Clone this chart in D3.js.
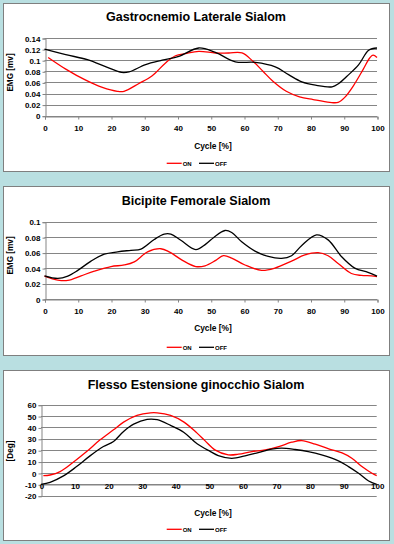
<!DOCTYPE html>
<html>
<head>
<meta charset="utf-8">
<script src="https://cdn.jsdelivr.net/npm/d3@7"></script>
<style>
  body { margin: 0; background: #b9dfe1; }
  svg { display: block; font-family: "Liberation Sans", Arial, sans-serif; }
</style>
</head>
<body>
<svg width="394" height="544"></svg>
<script>
// --- dati ---
const cycleTicks = [0, 10, 20, 30, 40, 50, 60, 70, 80, 90, 100];
const emgTicksGastro = [0, 0.02, 0.04, 0.06, 0.08, 0.1, 0.12, 0.14];
const emgTicksBicipite = [0, 0.02, 0.04, 0.06, 0.08, 0.1];
const degTicks = [-20, -10, 0, 10, 20, 30, 40, 50, 60];

// Gastrocnemio Laterale
const gastroOnCycle = [1.1, 6.4, 12.4, 17.4, 21.9, 23.9, 28.4, 32.4, 36.4, 39.4, 42.4, 46.4, 51.4, 55.4, 59.4, 62.7, 65.7, 68.7, 72.7, 76.7, 80.8, 85.8, 88.3, 90.3, 92.8, 95.8, 97.8, 98.8, 100];
const gastroOnEmg = [0.105, 0.084, 0.064, 0.051, 0.044, 0.044, 0.058, 0.072, 0.095, 0.108, 0.112, 0.116, 0.113, 0.113, 0.113, 0.098, 0.08, 0.062, 0.044, 0.034, 0.029, 0.024, 0.024, 0.033, 0.053, 0.083, 0.104, 0.109, 0.105];
const gastroOffCycle = [0, 6.4, 12.9, 18.9, 23.2, 25.4, 30.4, 35.4, 40.4, 46.4, 51.4, 57.4, 63.4, 69.4, 73.4, 77.4, 81.5, 86.5, 88.5, 91.5, 94.5, 97.5, 100];
const gastroOffEmg = [0.12, 0.11, 0.101, 0.087, 0.078, 0.079, 0.092, 0.1, 0.107, 0.122, 0.114, 0.097, 0.096, 0.088, 0.074, 0.061, 0.055, 0.052, 0.058, 0.074, 0.092, 0.118, 0.122];

// Bicipite Femorale
const bicOnCycle = [0, 4, 7, 11, 15, 20, 24, 27, 31, 35, 37.5, 41.5, 45.5, 48.3, 51.5, 53.8, 56.3, 60.3, 65.3, 69.3, 74.3, 78.3, 82.3, 85.3, 88.3, 92.3, 95.3, 98.3, 100];
const bicOnEmg = [0.0297, 0.0245, 0.024, 0.03, 0.036, 0.042, 0.044, 0.048, 0.061, 0.065, 0.061, 0.05, 0.042, 0.043, 0.05, 0.056, 0.053, 0.044, 0.037, 0.04, 0.049, 0.057, 0.06, 0.056, 0.046, 0.033, 0.0305, 0.03, 0.029];
const bicOffCycle = [0, 4, 7, 10, 14, 18, 22, 26, 29, 33, 36, 38, 41, 45.5, 48.5, 51, 54.3, 56.3, 59.3, 63.3, 67.3, 71.3, 74.3, 77.3, 81.8, 85.3, 89.3, 93.3, 97.3, 100];
const bicOffEmg = [0.03, 0.0267, 0.0297, 0.037, 0.049, 0.058, 0.061, 0.063, 0.0645, 0.077, 0.084, 0.084, 0.076, 0.064, 0.071, 0.08, 0.0886, 0.086, 0.074, 0.062, 0.055, 0.0525, 0.056, 0.069, 0.083, 0.0765, 0.055, 0.04, 0.0345, 0.0295];

// Flesso Estensione ginocchio
const kneeOnCycle = [0.7, 2.7, 5.7, 9.6, 13.6, 17.6, 21.6, 24.6, 28.6, 32.6, 34.6, 38.6, 42.6, 46.5, 48.9, 51.8, 55.8, 58.8, 62.8, 66.8, 70.8, 74.7, 77.7, 81.7, 85.7, 89.7, 92.6, 95.6, 98.6, 100];
const kneeOnDeg = [-2.4, -1.8, 1.2, 9.4, 18.8, 29.1, 37.9, 44.7, 50.6, 52.9, 52.9, 50.6, 44.7, 35, 28.2, 20.3, 15.9, 16.5, 18.8, 20.3, 23.2, 27, 28.5, 25.3, 21.2, 17.6, 12.9, 5.6, -0.3, -2.4];
const kneeOffCycle = [0, 2.7, 6.7, 10.6, 14.6, 18.6, 21.6, 24.6, 27.6, 31.6, 34.6, 38.6, 42.6, 46.5, 50.5, 52.8, 56.8, 60.8, 64.7, 68.7, 71.7, 75.7, 79.6, 83.6, 88.6, 91.6, 94.6, 97.6, 100];
const kneeOffDeg = [-10, -8.2, -2.6, 5.6, 15, 23.2, 27.6, 36.5, 42.9, 47.1, 46.8, 41.8, 35.6, 25.6, 18.8, 15.3, 12.9, 15, 17.9, 20.9, 21.8, 20.6, 18.8, 15.9, 10.6, 5.6, -0.3, -7.1, -10];

const seriesNames = ["ON", "OFF"];

const svg = d3.select("svg");
const gridColor = "#858585";
const colors = { ON: "#ff0000", OFF: "#000000" };

const panels = [
  {
    title: "Gastrocnemio Laterale Sialom", yTitle: "EMG [mv]",
    frame: [3, 3, 386, 168], titleY: 21.2, left: 44.5, right: 377, top: 38, bottom: 115.7,
    yDomain: [0, 0.14], yTicks: emgTicksGastro, xAxisAt: 0, cycleY: 148.5, legendY: 163.3, yTitleY: 72.5,
    series: [[gastroOnCycle, gastroOnEmg], [gastroOffCycle, gastroOffEmg]]
  },
  {
    title: "Bicipite Femorale Sialom", yTitle: "EMG [mv]",
    frame: [3, 186, 386, 169], titleY: 205, left: 44.5, right: 377, top: 221.7, bottom: 299,
    yDomain: [0, 0.1], yTicks: emgTicksBicipite, xAxisAt: 0, cycleY: 331, legendY: 347.3, yTitleY: 255.5,
    series: [[bicOnCycle, bicOnEmg], [bicOffCycle, bicOffEmg]]
  },
  {
    title: "Flesso Estensione ginocchio Sialom", yTitle: "[Deg]",
    frame: [3, 370, 386, 170], titleY: 389, left: 41, right: 376.7, top: 404.7, bottom: 495.7,
    yDomain: [-20, 60], yTicks: degTicks, xAxisAt: -10, cycleY: 516, legendY: 529.3, yTitleY: 451,
    series: [[kneeOnCycle, kneeOnDeg], [kneeOffCycle, kneeOffDeg]]
  }
];

function drawPanel(p) {
  const g = svg.append("g");

  g.append("rect")
    .attr("x", p.frame[0] + 0.5).attr("y", p.frame[1] + 0.5)
    .attr("width", p.frame[2]).attr("height", p.frame[3])
    .attr("fill", "#fff").attr("stroke", "#7f7f7f");

  const x = d3.scaleLinear().domain([0, 100]).range([p.left, p.right]);
  const y = d3.scaleLinear().domain(p.yDomain).range([p.bottom, p.top]);

  // griglia orizzontale
  g.append("g").selectAll("line").data(p.yTicks).join("line")
    .attr("x1", p.left).attr("x2", p.right)
    .attr("y1", d => Math.round(y(d)) + 0.5).attr("y2", d => Math.round(y(d)) + 0.5)
    .attr("stroke", gridColor).attr("stroke-width", 1);

  // asse y
  const yAxis = g.append("g")
    .attr("transform", `translate(${Math.round(p.left) + 0.5},0.5)`)
    .call(d3.axisLeft(y).tickValues(p.yTicks).tickSize(3).tickPadding(2).tickFormat(d => String(d)));
  yAxis.selectAll("path, line").attr("stroke", gridColor);
  yAxis.selectAll("text").attr("font-size", 8).attr("font-weight", "bold").attr("fill", "#000");

  // asse x
  const xAxis = g.append("g")
    .attr("transform", `translate(0.5,${Math.round(y(p.xAxisAt)) + 0.5})`)
    .call(d3.axisBottom(x).tickValues(cycleTicks).tickFormat(d => String(d))
      .tickSize(p.xAxisAt === 0 ? 3 : 0).tickPadding(p.xAxisAt === 0 ? 6 : -1.5));
  xAxis.selectAll("path, line").attr("stroke", gridColor);
  xAxis.selectAll("text").attr("font-size", 8).attr("font-weight", "bold").attr("fill", "#000");

  // curve
  const line = d3.line().x(d => x(d[0])).y(d => y(d[1])).curve(d3.curveCatmullRom.alpha(0.5));
  p.series.forEach((s, i) => {
    g.append("path")
      .datum(d3.zip(s[0], s[1]))
      .attr("d", line)
      .attr("fill", "none")
      .attr("stroke", colors[seriesNames[i]])
      .attr("stroke-width", 1.3);
  });

  // titoli
  g.append("text")
    .attr("x", 196).attr("y", p.titleY)
    .attr("text-anchor", "middle").attr("font-size", 12.5).attr("font-weight", "bold")
    .text(p.title);

  g.append("text")
    .attr("x", 213).attr("y", p.cycleY)
    .attr("text-anchor", "middle").attr("font-size", 8.4).attr("font-weight", "bold")
    .text("Cycle [%]");

  g.append("text")
    .attr("transform", `translate(13.3,${p.yTitleY}) rotate(-90)`)
    .attr("text-anchor", "middle").attr("font-size", 8.2).attr("font-weight", "bold")
    .text(p.yTitle);

  // legenda
  const legendX = [166.7, 199];
  seriesNames.forEach((name, i) => {
    g.append("line")
      .attr("x1", legendX[i]).attr("x2", legendX[i] + 15)
      .attr("y1", p.legendY).attr("y2", p.legendY)
      .attr("stroke", colors[name]).attr("stroke-width", 1.3);
    g.append("text")
      .attr("x", legendX[i] + 16).attr("y", p.legendY + 2.2)
      .attr("font-size", 6).attr("font-weight", "bold")
      .text(name);
  });
}

panels.forEach(drawPanel);
</script>
</body>
</html>
